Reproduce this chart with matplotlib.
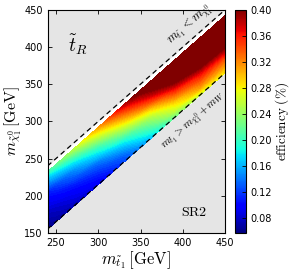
import numpy as np
import matplotlib
matplotlib.use('Agg')
import matplotlib.pyplot as plt
from matplotlib.colors import Normalize
from matplotlib.cm import ScalarMappable

plt.rcParams['mathtext.fontset'] = 'cm'

# stop masses (GeV) and mass splittings m_stop - m_chi (GeV)
m_stop = [240, 270, 300, 330, 360, 390, 420, 450]
delta_m = [8, 15, 25, 35, 45, 55, 65, 75, 85]

# efficiency, one row per stop mass, columns follow delta_m
eff_240 = [0.20, 0.17, 0.14, 0.11, 0.095, 0.085, 0.075, 0.068, 0.060]
eff_270 = [0.25, 0.22, 0.18, 0.15, 0.13, 0.11, 0.095, 0.085, 0.075]
eff_300 = [0.31, 0.28, 0.24, 0.20, 0.17, 0.14, 0.12, 0.105, 0.090]
eff_330 = [0.38, 0.35, 0.31, 0.27, 0.23, 0.19, 0.16, 0.135, 0.120]
eff_360 = [0.43, 0.41, 0.38, 0.34, 0.29, 0.25, 0.22, 0.19, 0.160]
eff_390 = [0.46, 0.45, 0.44, 0.41, 0.37, 0.33, 0.29, 0.26, 0.220]
eff_420 = [0.48, 0.47, 0.46, 0.44, 0.41, 0.37, 0.34, 0.31, 0.260]
eff_450 = [0.49, 0.49, 0.48, 0.46, 0.42, 0.38, 0.34, 0.31, 0.280]

cbar_ticks = [0.08, 0.12, 0.16, 0.20, 0.24, 0.28, 0.32, 0.36, 0.40]
m_w_b = 85  # m_W + m_b

eff = np.array([eff_240, eff_270, eff_300, eff_330, eff_360,
                eff_390, eff_420, eff_450]).T
X, DM = np.meshgrid(m_stop, delta_m)
Y = X - DM

fig = plt.figure(figsize=(2.9, 2.73), dpi=100)
ax = fig.add_axes([0.164, 0.147, 0.612, 0.817])
cax = fig.add_axes([0.810, 0.147, 0.038, 0.817])

ax.set_facecolor('#e5e5e5')
xs = np.array([240, 450])
# allowed region in white
ax.fill_between(xs, xs - m_w_b, xs, color='white', lw=0, zorder=1)

vmin, vmax = 0.057, 0.40
levels = np.linspace(vmin, vmax, 70)
cs = ax.contourf(X, Y, eff, levels=levels, cmap='jet', extend='both',
                 vmin=vmin, vmax=vmax, zorder=2, antialiased=False)

ax.plot(xs, xs, 'k--', lw=0.9, dashes=(4, 3), zorder=3)
ax.plot(xs, xs - m_w_b, 'k--', lw=0.9, dashes=(4, 3), zorder=3)

ax.set_xlim(240, 450)
ax.set_ylim(150, 450)
ax.set_xticks([250, 300, 350, 400, 450])
ax.set_yticks([150, 200, 250, 300, 350, 400, 450])
ax.tick_params(direction='in', top=True, right=True, labelsize=7, length=3, width=0.6)
for s in ax.spines.values():
    s.set_linewidth(0.8)

ax.set_xlabel(r'$m_{\tilde{t}_1}\,[\mathrm{GeV}]$', fontsize=12, labelpad=1)
ax.set_ylabel(r'$m_{\tilde{\chi}_1^0}\,[\mathrm{GeV}]$', fontsize=11.5, labelpad=0)

ax.text(276, 403, r'$\tilde{t}_R$', fontsize=14, ha='center', va='center')
ax.text(413, 178, r'$\mathrm{SR2}$', fontsize=10, ha='center', va='center')
ax.text(409, 430, r'$m_{\tilde{t}_1}<m_{\tilde{\chi}_1^0}$', fontsize=9,
        rotation=41, ha='center', va='center')
ax.text(413, 301, r'$m_{\tilde{t}_1}>m_{\tilde{\chi}_1^0}+m_W$', fontsize=8,
        rotation=41, ha='center', va='center')

sm = ScalarMappable(norm=Normalize(vmin, vmax), cmap='jet')
cb = fig.colorbar(sm, cax=cax, ticks=cbar_ticks)
cb.ax.tick_params(direction='in', labelsize=7, length=3, width=0.6)
cb.ax.set_yticklabels(['%.2f' % t for t in cbar_ticks])
cb.set_label(r'$\mathrm{efficiency}\ (\%)$', fontsize=9.5, labelpad=1)
cb.outline.set_linewidth(0.8)

fig.savefig('out.png', dpi=100)
